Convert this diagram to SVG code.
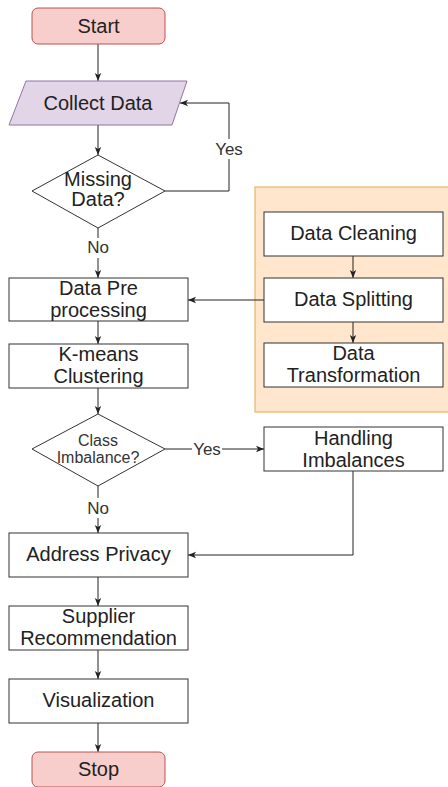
<svg xmlns="http://www.w3.org/2000/svg" width="448" height="787" viewBox="0 0 448 787">
<defs>
<marker id="ah" viewBox="0 0 10 10" refX="10" refY="5" markerWidth="8" markerHeight="8" markerUnits="userSpaceOnUse" orient="auto">
<path d="M0,1 L10,5 L0,9 L2.5,5 Z" fill="#222"/>
</marker>
</defs>
<style>
text{font-family:"Liberation Sans",Arial,sans-serif;font-size:20px;fill:#222;text-anchor:middle}
.box{fill:#fff;stroke:#333;stroke-width:1}
.term{fill:#f8cecc;stroke:#b85450;stroke-width:1}
.io{fill:#e1d5e7;stroke:#9673a6;stroke-width:1}
.c{fill:none;stroke:#222;stroke-width:1}
.a{marker-end:url(#ah)}
.sm{font-size:16px;fill:#333}
.lbl{font-size:17px;fill:#333}
</style>
<rect width="448" height="787" fill="#fff"/>
<g id="container">
<rect x="255" y="187" width="200" height="225" fill="#ffe6cc" stroke="#e8b567" stroke-width="1.2"/>
</g>
<g id="connectors">
<line class="c a" x1="98" y1="44" x2="98" y2="81"/>
<line class="c a" x1="98" y1="125" x2="98" y2="155"/>
<polyline class="c a" points="165,191 229,191 229,103 180,103"/>
<line class="c a" x1="98" y1="228" x2="98" y2="278"/>
<line class="c a" x1="264" y1="300" x2="188" y2="300"/>
<line class="c a" x1="353" y1="256" x2="353" y2="278"/>
<line class="c a" x1="353" y1="322" x2="353" y2="343"/>
<line class="c a" x1="98" y1="321" x2="98" y2="344"/>
<line class="c a" x1="98" y1="388" x2="98" y2="414"/>
<line class="c a" x1="165" y1="449" x2="264" y2="449"/>
<line class="c a" x1="98" y1="486" x2="98" y2="533"/>
<polyline class="c a" points="353,471 353,555 188,555"/>
<line class="c a" x1="98" y1="577" x2="98" y2="606"/>
<line class="c a" x1="98" y1="650" x2="98" y2="679"/>
<line class="c a" x1="98" y1="723" x2="98" y2="752"/>
<rect x="213" y="139" width="32" height="20" fill="#fff"/>
<text class="lbl" x="229" y="155">Yes</text>
<rect x="86" y="238" width="24" height="20" fill="#fff"/>
<text class="lbl" x="98" y="253">No</text>
<rect x="192" y="439" width="30" height="20" fill="#fff"/>
<text class="lbl" x="207" y="455">Yes</text>
<rect x="86" y="498" width="24" height="20" fill="#fff"/>
<text class="lbl" x="98" y="514">No</text>
</g>
<g id="start">
<rect class="term" x="32" y="8" width="133" height="36" rx="6"/>
<text x="98.5" y="33">Start</text>
</g>
<g id="collect">
<polygon class="io" points="26,81 187,81 172,125 9,125"/>
<text x="98" y="110">Collect Data</text>
</g>
<g id="missing">
<polygon class="box" points="98,155 165,191 98,228 32,191"/>
<text x="98" y="186">Missing</text>
<text x="98" y="206">Data?</text>
</g>
<g id="preproc">
<rect class="box" x="9" y="278" width="179" height="43"/>
<text x="98.5" y="295">Data Pre</text>
<text x="98.5" y="317">processing</text>
</g>
<g id="kmeans">
<rect class="box" x="9" y="344" width="179" height="44"/>
<text x="98.5" y="361">K-means</text>
<text x="98.5" y="383">Clustering</text>
</g>
<g id="cleaning">
<rect class="box" x="264" y="212" width="179" height="44"/>
<text x="353.5" y="240">Data Cleaning</text>
</g>
<g id="splitting">
<rect class="box" x="264" y="278" width="179" height="44"/>
<text x="353.5" y="306">Data Splitting</text>
</g>
<g id="transform">
<rect class="box" x="264" y="343" width="179" height="44"/>
<text x="353.5" y="360">Data</text>
<text x="353.5" y="382">Transformation</text>
</g>
<g id="classimb">
<polygon class="box" points="98,414 165,449 98,486 32,449"/>
<text class="sm" x="98" y="446">Class</text>
<text class="sm" x="98" y="463">Imbalance?</text>
</g>
<g id="handling">
<rect class="box" x="264" y="427" width="179" height="44"/>
<text x="353.5" y="445">Handling</text>
<text x="353.5" y="467">Imbalances</text>
</g>
<g id="privacy">
<rect class="box" x="9" y="533" width="179" height="44"/>
<text x="98.5" y="561">Address Privacy</text>
</g>
<g id="supplier">
<rect class="box" x="9" y="606" width="179" height="44"/>
<text x="98.5" y="623">Supplier</text>
<text x="98.5" y="645">Recommendation</text>
</g>
<g id="visual">
<rect class="box" x="9" y="679" width="179" height="44"/>
<text x="98.5" y="707">Visualization</text>
</g>
<g id="stop">
<rect class="term" x="32" y="752" width="133" height="35" rx="6"/>
<text x="98.5" y="776">Stop</text>
</g>
</svg>
